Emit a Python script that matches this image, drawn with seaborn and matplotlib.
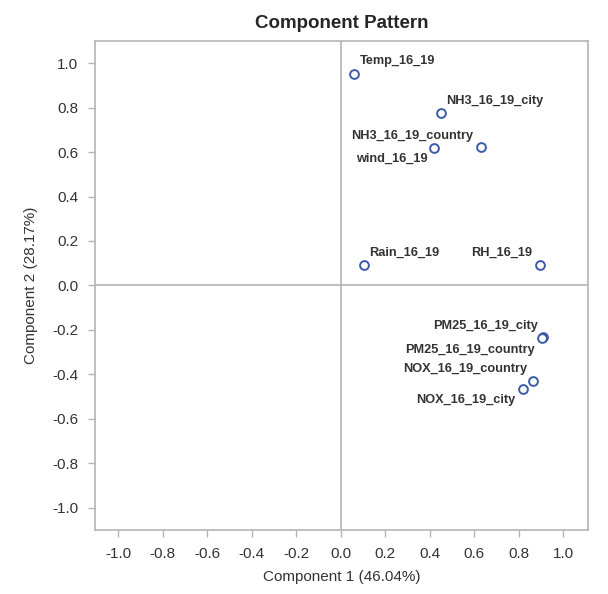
import pandas as pd
import matplotlib.pyplot as plt
import seaborn as sns

# Component loadings
variables = ['Temp_16_19', 'NH3_16_19_city', 'NH3_16_19_country', 'wind_16_19',
             'Rain_16_19', 'RH_16_19', 'PM25_16_19_city', 'PM25_16_19_country',
             'NOX_16_19_country', 'NOX_16_19_city']
comp1 = [0.058, 0.45, 0.63, 0.42, 0.105, 0.894, 0.91, 0.905, 0.864, 0.82]
comp2 = [0.95, 0.777, 0.621, 0.617, 0.092, 0.092, -0.233, -0.237, -0.432, -0.467]
ticks = [-1.0, -0.8, -0.6, -0.4, -0.2, 0.0, 0.2, 0.4, 0.6, 0.8, 1.0]

df = pd.DataFrame({'variable': variables, 'c1': comp1, 'c2': comp2})

# label placement (pixel offsets from the point, alignment)
label_pos = {
    'Temp_16_19': (6, 13, 'left'),
    'NH3_16_19_city': (5, 12, 'left'),
    'NH3_16_19_country': (-8, 11, 'right'),
    'wind_16_19': (-7, -10, 'right'),
    'Rain_16_19': (5, 12, 'left'),
    'RH_16_19': (-8, 12, 'right'),
    'PM25_16_19_city': (-5, 11, 'right'),
    'PM25_16_19_country': (-7, -12, 'right'),
    'NOX_16_19_country': (-6, 12, 'right'),
    'NOX_16_19_city': (-8, -11, 'right'),
}

sns.set_style('white')
plt.rcParams['font.family'] = ['Liberation Sans', 'DejaVu Sans']

fig = plt.figure(figsize=(6.08, 5.94), dpi=100)
ax = fig.add_axes([0.156, 0.108, 0.811, 0.823])

grey = '#b4b4b4'
ax.axhline(0, color=grey, lw=1.2, zorder=1)
ax.axvline(0, color=grey, lw=1.2, zorder=1)

sns.scatterplot(data=df, x='c1', y='c2', ax=ax, marker='o', s=40,
                facecolor='white', edgecolor='#3c5ba8', linewidth=1.4, zorder=3)

for v, x, y in zip(variables, comp1, comp2):
    dx, dy, ha = label_pos[v]
    ax.annotate(v, (x, y), xytext=(dx, dy), textcoords='offset pixels',
                ha=ha, va='center', fontsize=9.2, fontweight='bold',
                color='#333333')

ax.set_xlim(-1.105, 1.11)
ax.set_ylim(-1.1, 1.1)
ax.set_xticks(ticks)
ax.set_yticks(ticks)
ax.set_xticklabels([f'{t:.1f}' for t in ticks])
ax.set_yticklabels([f'{t:.1f}' for t in ticks])

for s in ax.spines.values():
    s.set_color(grey)
    s.set_linewidth(1.2)
ax.tick_params(bottom=True, left=True, direction='out', length=5, width=1,
               color=grey, labelsize=11, labelcolor='#333333', pad=7)

ax.set_xlabel('Component 1 (46.04%)', fontsize=11, color='#333333', labelpad=7)
ax.set_ylabel('Component 2 (28.17%)', fontsize=11, color='#333333', labelpad=10)
ax.set_title('Component Pattern', fontsize=13.5, fontweight='bold', pad=9)

fig.savefig('out.png', dpi=100)
